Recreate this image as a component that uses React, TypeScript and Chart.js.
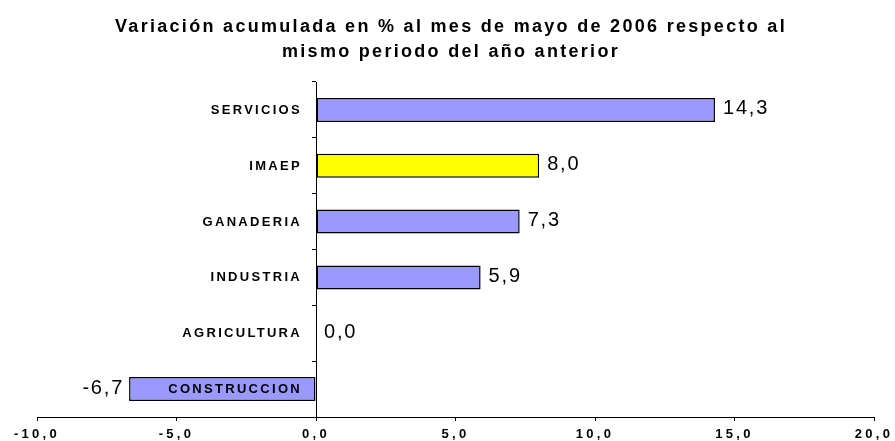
import React, { useEffect, useRef } from 'react';
import { Chart, registerables } from 'chart.js';

Chart.register(...registerables);

const categories = ['SERVICIOS', 'IMAEP', 'GANADERIA', 'INDUSTRIA', 'AGRICULTURA', 'CONSTRUCCION'];
const values = [14.3, 8.0, 7.3, 5.9, 0.0, -6.7];
const barColors = ['#9999FF', '#FFFF00', '#9999FF', '#9999FF', '#9999FF', '#9999FF'];
const xTicks = [-10, -5, 0, 5, 10, 15, 20];
const titleLines = [
  'Variación acumulada en % al mes de mayo de 2006 respecto al',
  'mismo periodo del año anterior',
];

const FONT = '"Liberation Sans", Arial, Helvetica, sans-serif';
const fmt = (v: number) => v.toFixed(1).replace('.', ',');

const textPlugin = {
  id: 'customText',
  afterDraw(chart: any) {
    const ctx = chart.ctx as CanvasRenderingContext2D;
    const xs = chart.scales.x;
    const ys = chart.scales.y;
    const zero = xs.getPixelForValue(0);
    ctx.save();
    ctx.fillStyle = '#000';

    // title
    ctx.font = `bold 18px ${FONT}`;
    (ctx as any).letterSpacing = '2.3px';
    ctx.textAlign = 'center';
    ctx.textBaseline = 'alphabetic';
    ctx.fillText(titleLines[0], 451, 32);
    ctx.fillText(titleLines[1], 451, 57);

    // category labels
    ctx.font = `bold 13px ${FONT}`;
    (ctx as any).letterSpacing = '2.3px';
    ctx.textAlign = 'right';
    ctx.textBaseline = 'middle';
    categories.forEach((c, i) => {
      ctx.fillText(c, zero - 14, ys.getPixelForValue(i) + 0.5);
    });

    // value labels
    ctx.font = `20px ${FONT}`;
    (ctx as any).letterSpacing = '1.8px';
    values.forEach((v, i) => {
      const px = xs.getPixelForValue(v);
      const py = ys.getPixelForValue(i) - 1;
      if (v < 0) {
        ctx.textAlign = 'right';
        ctx.fillText(fmt(v), px - 5, py);
      } else {
        ctx.textAlign = 'left';
        ctx.fillText(fmt(v), px + 8, py);
      }
    });

    // x tick labels
    ctx.font = `bold 13px ${FONT}`;
    (ctx as any).letterSpacing = '3.3px';
    ctx.textAlign = 'center';
    ctx.textBaseline = 'alphabetic';
    xTicks.forEach((t) => {
      ctx.fillText(fmt(t), xs.getPixelForValue(t), 438);
    });

    ctx.restore();
  },
};

export default function App() {
  const ref = useRef<HTMLCanvasElement | null>(null);
  useEffect(() => {
    if (!ref.current) return;
    const chart = new Chart(ref.current, {
      type: 'bar',
      data: {
        labels: categories,
        datasets: [
          {
            data: values,
            backgroundColor: barColors,
            borderColor: '#000',
            borderWidth: 1.5,
            borderSkipped: false,
            barPercentage: 0.43,
            categoryPercentage: 1,
          },
        ],
      },
      options: {
        indexAxis: 'y',
        animation: false,
        responsive: true,
        maintainAspectRatio: false,
        layout: { padding: { left: 37, right: 21, top: 82, bottom: 20 } },
        plugins: {
          legend: { display: false },
          tooltip: { enabled: false },
          title: { display: false },
        },
        scales: {
          x: {
            type: 'linear',
            min: -10,
            max: 20,
            ticks: { stepSize: 5, display: false },
            grid: { drawOnChartArea: false, drawTicks: true, tickLength: 4, color: '#000' },
            border: { display: true, color: '#000', width: 1 },
          },
          y: {
            type: 'category',
            position: { x: 0 },
            ticks: { display: false },
            grid: { offset: true, drawOnChartArea: false, drawTicks: true, tickLength: 4, color: '#000' },
            border: { display: true, color: '#000', width: 1 },
          },
        },
      },
      plugins: [textPlugin],
    } as any);
    return () => chart.destroy();
  }, []);

  return (
    <div style={{ position: 'absolute', left: 0, top: 0, width: 895, height: 441, background: '#fff' }}>
      <canvas ref={ref} />
    </div>
  );
}
